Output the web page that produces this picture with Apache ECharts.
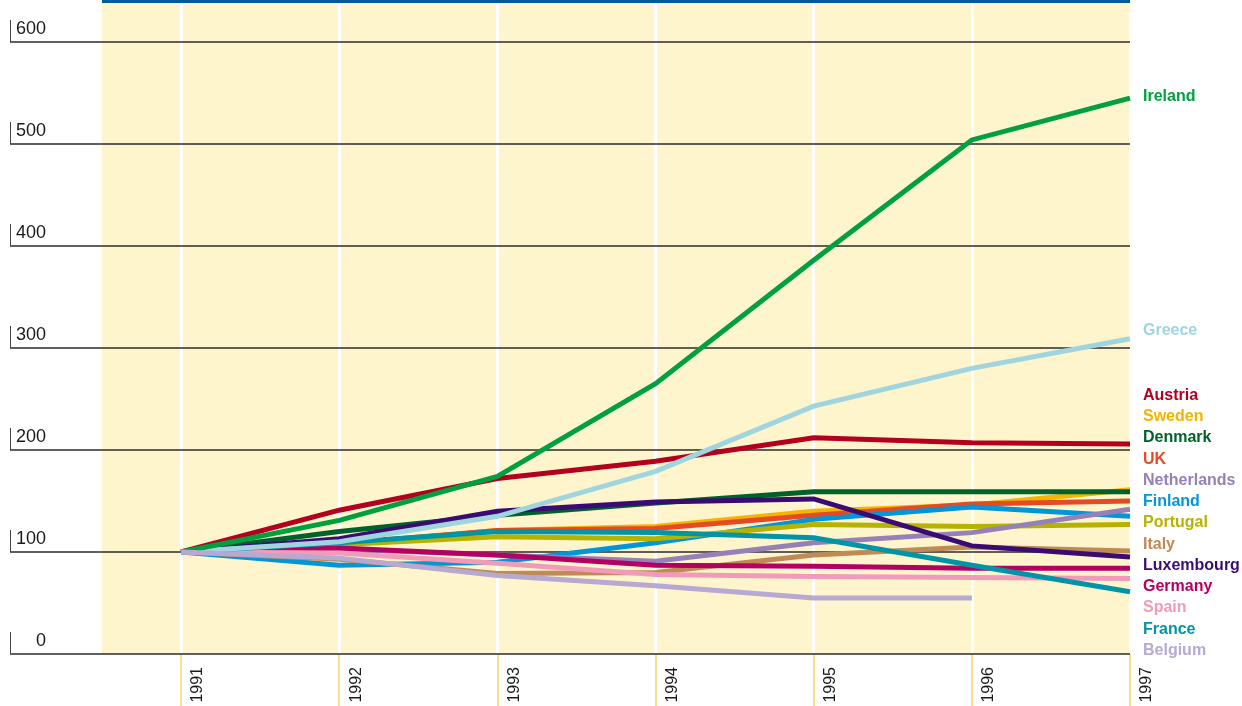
<!DOCTYPE html>
<html><head><meta charset="utf-8">
<script src="https://cdn.jsdelivr.net/npm/echarts@6/dist/echarts.min.js"></script>
<style>html,body{margin:0;padding:0;background:#fff}#c{width:1242px;height:706px}</style>
</head><body><div id="c"></div>
<script>
// ---- data ----
const years = [1991, 1992, 1993, 1994, 1995, 1996, 1997];
const ireland     = [100, 131, 174, 265, 386, 504, 545];
const greece      = [100, 110, 135, 179, 243, 280, 309];
const austria     = [100, 141, 172, 189, 212, 207, 206];
const sweden      = [100, 107, 121, 125, 140, 146, 161];
const denmark     = [100, 120, 136, 148, 159, 159, 159];
const uk          = [100, 108, 121, 123, 136, 147, 150];
const netherlands = [100, 103, 97, 91, 109, 119, 142];
const finland     = [100, 87, 90, 109, 132, 144, 135];
const portugal    = [100, 107, 115, 113, 127, 125, 127];
const italy       = [100, 93, 79, 80, 97, 105, 101];
const luxembourg  = [100, 113, 140, 149, 152, 106, 95];
const germany     = [100, 104, 97, 87, 86, 84, 84];
const spain       = [100, 99, 89, 78, 76, 75, 74];
const france      = [100, 109, 120, 119, 114, 87, 61];
const belgium     = [100, 94, 77, 67, 55, 55, null];
const listNames = ['Austria','Sweden','Denmark','UK','Netherlands','Finland','Portugal','Italy','Luxembourg','Germany','Spain','France','Belgium'];

// ---- styles ----
const FONT = "'Liberation Sans','Arial',sans-serif";
const seriesDefs = [
  ['Austria', austria, '#b3001f'],
  ['Sweden', sweden, '#f4b400'],
  ['UK', uk, '#e64a25'],
  ['Denmark', denmark, '#00622b'],
  ['Finland', finland, '#0096d8'],
  ['Portugal', portugal, '#b6b300'],
  ['Netherlands', netherlands, '#9580b8'],
  ['Italy', italy, '#c08a56'],
  ['Luxembourg', luxembourg, '#3b0b74'],
  ['Germany', germany, '#b40062'],
  ['Spain', spain, '#f29ab9'],
  ['France', france, '#0095a6'],
  ['Greece', greece, '#a0d5e0'],
  ['Ireland', ireland, '#00a040'],
  ['Belgium', belgium, '#b7a9d1']
];
const colorOf = {};
seriesDefs.forEach(d => colorOf[d[0]] = d[2]);

const series = seriesDefs.map(([name, vals, color]) => ({
  name, type: 'line', xAxisIndex: 0, yAxisIndex: 0,
  data: years.map((y, i) => [y, vals[i]]),
  showSymbol: false, symbol: 'none',
  lineStyle: { color, width: 5, cap: 'butt', join: 'miter' },
  itemStyle: { color },
  animation: false
}));

const legendText = { fontFamily: FONT, fontWeight: 'bold', fontSize: 16, lineHeight: 21.25 };
function mkLegend(names, top) {
  return {
    orient: 'vertical', left: 1138, top, padding: 0, itemGap: 0,
    icon: 'none', itemWidth: 0, itemHeight: 10, selectedMode: false,
    data: names.map(n => ({ name: n, textStyle: Object.assign({ color: colorOf[n] }, legendText) })),
    textStyle: legendText
  };
}

const chart = echarts.init(document.getElementById('c'), null, { renderer: 'canvas' });
chart.setOption({
  animation: false,
  backgroundColor: '#ffffff',
  grid: [
    { left: 102, right: 112, top: 0, bottom: 52, show: true, backgroundColor: '#fef5cd', borderWidth: 0, containLabel: false, outerBoundsMode: 'none' },
    { left: 10, right: 112, top: 42, bottom: 52, containLabel: false, outerBoundsMode: 'none' }
  ],
  xAxis: [
    { gridIndex: 0, type: 'value', min: 1990.5, max: 1997, position: 'bottom',
      axisLine: { show: false },
      axisTick: { show: true, customValues: years, length: 52, lineStyle: { color: '#fbe08c', width: 2 } },
      axisLabel: { customValues: years, rotate: 90, formatter: v => String(v), fontSize: 16, fontFamily: FONT,
                   color: '#1a1a1a', margin: 13, verticalAlign: 'top', align: 'right', padding: [9, 0, 0, 0] },
      splitLine: { show: true, customValues: years, lineStyle: { color: '#ffffff', width: 3 } } },
    { gridIndex: 0, type: 'value', min: 1990.5, max: 1997, position: 'top',
      axisLine: { show: true, lineStyle: { color: '#005b9a', width: 6, cap: 'butt' } },
      axisTick: { show: false }, axisLabel: { show: false }, splitLine: { show: false } },
    { gridIndex: 1, type: 'value', min: 1990.5, max: 1997, show: false }
  ],
  yAxis: [
    { gridIndex: 0, type: 'value', min: 0, max: 641.2, show: false, splitLine: { show: false } },
    { gridIndex: 1, type: 'value', min: 0, max: 600, interval: 100, z: 1,
      axisLine: { show: false }, axisTick: { show: false },
      splitLine: { show: true, lineStyle: { color: '#2b2b2b', width: 1.5 } },
      axisLabel: {
        inside: true, margin: 0, align: 'left', verticalAlign: 'bottom',
        formatter: v => '{b|}{v|' + v + '}',
        rich: {
          b: { width: 1, height: 22, backgroundColor: '#444' },
          v: { width: 35, align: 'right', fontSize: 18, fontFamily: FONT, color: '#1a1a1a', lineHeight: 16, verticalAlign: 'top' }
        }
      } }
  ],
  legend: [
    mkLegend(['Ireland'], 86.4),
    mkLegend(['Greece'], 320.4),
    mkLegend(listNames, 384.9)
  ],
  series
});
</script></body></html>
